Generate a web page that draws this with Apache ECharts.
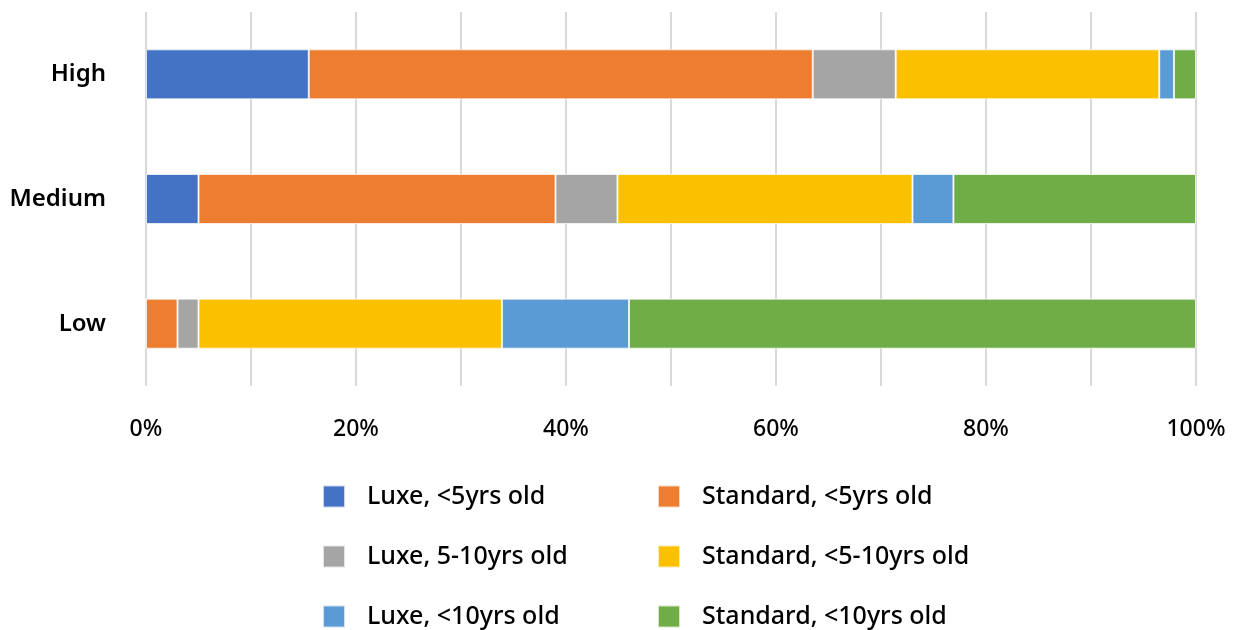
<!DOCTYPE html>
<html>
<head>
<meta charset="utf-8">
<script src="https://cdn.jsdelivr.net/npm/echarts@6/dist/echarts.min.js"></script>
<style>
html,body{margin:0;padding:0;background:#fff;}
#chart{width:1239px;height:630px;}
</style>
</head>
<body>
<div id="chart"></div>
<script>
const categories = ['High', 'Medium', 'Low'];
const seriesNames = ['Luxe, <5yrs old', 'Standard, <5yrs old', 'Luxe, 5-10yrs old', 'Standard, <5-10yrs old', 'Luxe, <10yrs old', 'Standard, <10yrs old'];
const luxeUnder5 = [15.5, 5.0, 0];
const standardUnder5 = [48.0, 34.0, 3.0];
const luxe5to10 = [7.9, 5.9, 2.0];
const standard5to10 = [25.1, 28.1, 28.9];
const luxeOver10 = [1.4, 3.9, 12.1];
const standardOver10 = [2.1, 23.1, 54.0];
const xTickLabels = ['0%', '20%', '40%', '60%', '80%', '100%'];
const colors = ['#4472C4', '#ED7D31', '#A5A5A5', '#FBC000', '#5B9BD5', '#70AD47'];

const values = [luxeUnder5, standardUnder5, luxe5to10, standard5to10, luxeOver10, standardOver10];
const font = '"Noto Sans", "Open Sans", sans-serif';

const legendText = { fontSize: 25, fontWeight: 500, color: '#000', fontFamily: font, padding: [0, 0, 0, 17] };

const chart = echarts.init(document.getElementById('chart'));
chart.setOption({
  animation: false,
  textStyle: { fontFamily: font },
  color: colors,
  grid: { left: 146, right: 43, top: 12, bottom: 244, containLabel: false },
  xAxis: {
    type: 'value', min: 0, max: 100, interval: 10,
    axisLine: { show: false }, axisTick: { show: false },
    splitLine: { show: true, lineStyle: { color: '#d9d9d9', width: 2 } },
    axisLabel: {
      margin: 32, fontSize: 23, fontWeight: 500, color: '#000', fontFamily: font,
      formatter: function (v) { return v % 20 === 0 ? xTickLabels[v / 20] : ''; }
    }
  },
  yAxis: {
    type: 'category', data: categories, inverse: true,
    axisLine: { show: false }, axisTick: { show: false },
    axisLabel: { margin: 40, fontSize: 24, fontWeight: 600, color: '#000', fontFamily: font }
  },
  legend: [
    {
      data: [seriesNames[0], seriesNames[2], seriesNames[4]],
      orient: 'vertical', left: 317, top: 479, height: 200, itemWidth: 22, itemHeight: 22, itemGap: 35,
      icon: 'rect', textStyle: legendText
    },
    {
      data: [seriesNames[1], seriesNames[3], seriesNames[5]],
      orient: 'vertical', left: 652, top: 479, height: 200, itemWidth: 22, itemHeight: 22, itemGap: 35,
      icon: 'rect', textStyle: legendText
    }
  ],
  series: seriesNames.map(function (name, i) {
    return {
      name: name, type: 'bar', stack: 'total', barWidth: 50,
      itemStyle: { color: colors[i], borderColor: 'rgba(255,255,255,0.7)', borderWidth: 1 },
      data: values[i]
    };
  })
});
</script>
</body>
</html>
